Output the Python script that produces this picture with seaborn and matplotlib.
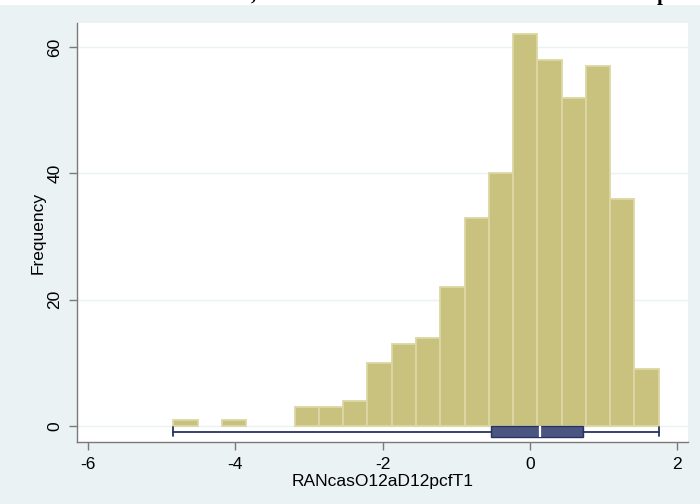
import numpy as np
import pandas as pd
import matplotlib
matplotlib.use("Agg")
import matplotlib.pyplot as plt
from matplotlib.patches import Rectangle
import seaborn as sns

# ---- data ----
bin_start = -4.84
bin_width = 0.3295
counts = [1, 0, 1, 0, 0, 3, 3, 4, 10, 13, 14, 22, 33, 40, 62, 58, 52, 57, 36, 9]
box_min, box_q1, box_med, box_q3, box_max = -4.84, -0.53, 0.135, 0.72, 1.75
x_ticks = [-6, -4, -2, 0, 2]
y_ticks = [0, 20, 40, 60]
x_label = "RANcasO12aD12pcfT1"
y_label = "Frequency"

edges = (bin_start + bin_width * np.arange(len(counts) + 1)).tolist()
centers = [(a + b) / 2 for a, b in zip(edges[:-1], edges[1:])]
df = pd.DataFrame({"value": centers, "count": counts})

sns.set_theme(style="white")
plt.rcParams["font.family"] = ["Liberation Sans", "DejaVu Sans"]

BG = "#EAF2F3"
fig = plt.figure(figsize=(7.0, 5.04), dpi=100, facecolor=BG)
fig.patches.append(Rectangle((0, 1 - 5 / 504), 1, 5 / 504, transform=fig.transFigure,
                             facecolor="white", edgecolor="none", zorder=0))
ax = fig.add_axes([77 / 700, 1 - 442 / 504, (688 - 77) / 700, (442 - 23) / 504])
ax.set_facecolor("white")

sns.histplot(data=df, x="value", weights="count", bins=edges, ax=ax,
             color="#C9C17E", edgecolor="#DCD7A4", linewidth=1.3, alpha=1.0, zorder=2)
for p in list(ax.patches):
    if p.get_height() == 0:
        p.remove()

stats = [{"med": box_med, "q1": box_q1, "q3": box_q3,
          "whislo": box_min, "whishi": box_max, "fliers": []}]
ax.bxp(stats, positions=[-0.87], widths=1.65, orientation="horizontal",
       patch_artist=True, showfliers=False, capwidths=1.4, manage_ticks=False,
       boxprops=dict(facecolor="#4B5582", edgecolor="#27335F", linewidth=1.0),
       whiskerprops=dict(color="#27335F", linewidth=1.3),
       capprops=dict(color="#27335F", linewidth=1.3),
       medianprops=dict(color="white", linewidth=1.6), zorder=3)

ax.set_xlim(-6.15, 2.15)
ax.set_ylim(-2.53, 63.8)
ax.set_xticks(x_ticks)
ax.set_yticks(y_ticks)
ax.set_xticklabels([str(t) for t in x_ticks])
ax.set_yticklabels([str(t) for t in y_ticks], rotation=90, va="center")
ax.yaxis.grid(True, color=BG, linewidth=1.0, zorder=0)
ax.set_axisbelow(True)

for s in ["top", "right"]:
    ax.spines[s].set_visible(False)
for s in ["left", "bottom"]:
    ax.spines[s].set_visible(True)
    ax.spines[s].set_color("#7A7A7A")
    ax.spines[s].set_linewidth(1.0)
ax.tick_params(axis="both", which="major", direction="out", length=5.5, width=1.0,
               color="#7A7A7A", labelsize=12.5, labelcolor="black", pad=5,
               bottom=True, left=True)
ax.set_xlabel(x_label, fontsize=12.5, color="black", labelpad=2)
ax.set_ylabel(y_label, fontsize=12.5, color="black", labelpad=1.5)

# partially visible (cropped) title glyphs at the very top
fig.text(253 / 700, 1.0, ",", fontsize=15, fontweight="bold",
         family=["Liberation Serif", "DejaVu Serif"], va="baseline", ha="center", color="black")
fig.text(663 / 700, 1.0, "p", fontsize=15, fontweight="bold",
         family=["Liberation Serif", "DejaVu Serif"], va="baseline", ha="center", color="black")

fig.savefig("out.png", dpi=100, facecolor=BG)
